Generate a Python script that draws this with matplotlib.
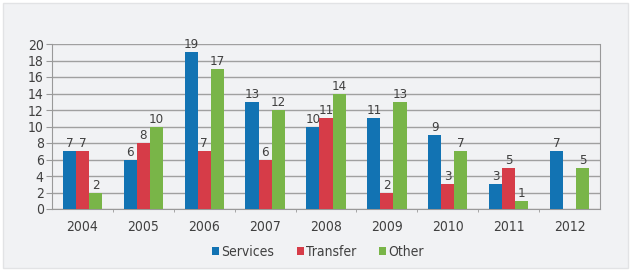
import numpy as np
import matplotlib.pyplot as plt
from matplotlib.patches import Rectangle

years = ['2004', '2005', '2006', '2007', '2008', '2009', '2010', '2011', '2012']
services = [7, 6, 19, 13, 10, 11, 9, 3, 7]
transfer = [7, 8, 7, 6, 11, 2, 3, 5, 0]
other = [2, 10, 17, 12, 14, 13, 7, 1, 5]
series_names = ['Services', 'Transfer', 'Other']
colors = ['#1273b3', '#d63c48', '#79b548']

plt.rcParams['font.family'] = ['DejaVu Sans']
plt.rcParams['font.stretch'] = 'condensed'

fig = plt.figure(figsize=(6.34, 2.72), dpi=100)
fig.patch.set_facecolor('white')

# grey panel behind everything
bg = fig.add_axes([0, 0, 1, 1], zorder=-1)
bg.axis('off')
bg.set_xlim(0, 634)
bg.set_ylim(272, 0)
bg.add_patch(Rectangle((3, 3), 625, 265, facecolor='#f1f2f4', edgecolor='#e2e3e5', lw=1))

ax = fig.add_axes([52/634, 1-209/272, 548/634, 165/272])
ax.set_facecolor('none')

x = np.arange(len(years))
w = 0.215
for i, vals in enumerate([services, transfer, other]):
    pos = x + (i-1)*w
    ax.bar(pos, vals, w, color=colors[i], label=series_names[i], zorder=3)
    for p, v in zip(pos, vals):
        if v > 0:
            ax.text(p, v+0.1, str(v), ha='center', va='bottom', fontsize=9.5, color='#404040')

ax.set_xlim(-0.5, len(years)-0.5)
ax.set_ylim(0, 20)
ax.set_yticks(range(0, 21, 2))
ax.set_xticks(x)
ax.set_xticklabels(years)
ax.set_xticks(np.arange(0.5, len(years)-0.5, 1), minor=True)
ax.tick_params(axis='x', which='major', length=0, labelsize=10, pad=8, colors='#404040')
ax.tick_params(axis='x', which='minor', length=2, direction='out', color='#999999')
ax.tick_params(axis='y', length=4, labelsize=10, pad=2, colors='#404040', color='#999999')
ax.yaxis.grid(True, color='#a0a0a0', lw=1)
ax.set_axisbelow(True)
ax.spines['top'].set_visible(False)
for s in ['left', 'bottom', 'right']:
    ax.spines[s].set_color('#999999')

leg = fig.legend(loc='center', bbox_to_anchor=(318/634, 1-252/272), ncol=3, frameon=False,
                 fontsize=10, handlelength=0.5, handleheight=0.5, handletextpad=0.2,
                 columnspacing=1.6)
for t in leg.get_texts():
    t.set_color('#404040')

fig.savefig('out.png', dpi=100)
